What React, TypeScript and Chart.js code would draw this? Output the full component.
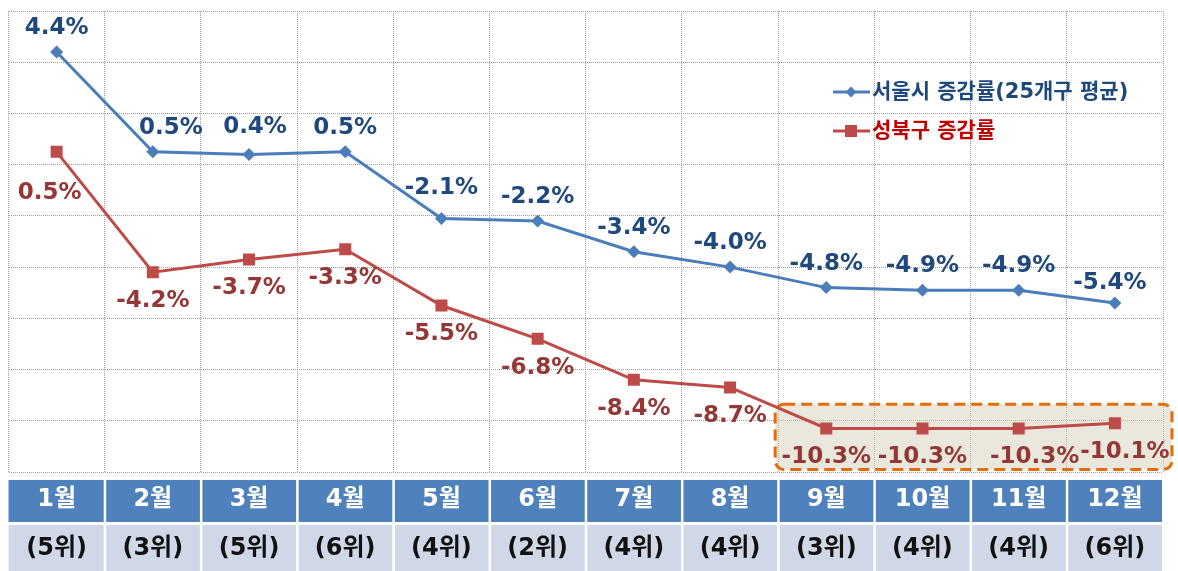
import React, { useEffect, useRef } from 'react';
import { Chart, registerables } from 'chart.js';

Chart.register(...registerables);

const months = ['1월', '2월', '3월', '4월', '5월', '6월', '7월', '8월', '9월', '10월', '11월', '12월'];
const ranks = ['(5위)', '(3위)', '(5위)', '(6위)', '(4위)', '(2위)', '(4위)', '(4위)', '(3위)', '(4위)', '(4위)', '(6위)'];
const seoulRate = [4.4, 0.5, 0.4, 0.5, -2.1, -2.2, -3.4, -4.0, -4.8, -4.9, -4.9, -5.4];
const seongbukRate = [0.5, -4.2, -3.7, -3.3, -5.5, -6.8, -8.4, -8.7, -10.3, -10.3, -10.3, -10.1];
const seriesNames = ['서울시 증감률(25개구 평균)', '성북구 증감률'];
const highlightFrom = 8;
const highlightTo = 11;

const NUM_FONT = '"DejaVu Sans", "Noto Sans CJK KR", sans-serif';
const BLUE = '#4a7ebb';
const RED = '#be4b48';
const BLUE_TEXT = '#1f497d';
const RED_TEXT = '#953735';
const GRID = '#9c9c9c';

const labelShift: Record<string, [number, number]> = {
  '0-1': [18, 0],
  '0-2': [6, -3],
  '0-4': [0, -6],
  '0-11': [-5, 4],
  '1-0': [-7, 12],
  '1-10': [16, 0],
  '1-11': [10, 0],
};

const overlayPlugin = {
  id: 'overlay',
  beforeDatasetsDraw(chart: any) {
    const { ctx } = chart;
    const xs = chart.scales.x;
    const ys = chart.scales.y;
    const half = (xs.getPixelForValue(1) - xs.getPixelForValue(0)) / 2;
    const left = xs.getPixelForValue(highlightFrom) - half - 3;
    const right = xs.getPixelForValue(highlightTo) + half + 9;
    const top = ys.getPixelForValue(-9.35);
    const bottom = ys.getPixelForValue(-11.9);
    ctx.save();
    ctx.beginPath();
    (ctx as any).roundRect(left, top, right - left, bottom - top, 9);
    ctx.fillStyle = 'rgba(214,208,188,0.5)';
    ctx.fill();
    ctx.setLineDash([11, 6]);
    ctx.lineWidth = 3;
    ctx.strokeStyle = '#e46c0a';
    ctx.stroke();
    ctx.restore();
  },
  afterDatasetsDraw(chart: any) {
    const { ctx } = chart;
    ctx.save();
    ctx.font = `bold 23px ${NUM_FONT}`;
    ctx.textAlign = 'center';
    ctx.textBaseline = 'middle';
    chart.data.datasets.forEach((ds: any, di: number) => {
      const meta = chart.getDatasetMeta(di);
      meta.data.forEach((el: any, i: number) => {
        const v = ds.data[i] as number;
        const text = v.toFixed(1) + '%';
        const shift = labelShift[`${di}-${i}`] || [0, 0];
        const dy = di === 0 ? -24 : 29;
        ctx.fillStyle = di === 0 ? BLUE_TEXT : RED_TEXT;
        ctx.fillText(text, el.x + shift[0], el.y + dy + shift[1]);
      });
    });

    // legend
    const lx = 833;
    const items = [
      { y: 92, color: BLUE, text: '#1f497d', style: 'diamond' },
      { y: 131, color: RED, text: '#c00000', style: 'square' },
    ];
    items.forEach((it, k) => {
      ctx.strokeStyle = it.color;
      ctx.lineWidth = 3;
      ctx.setLineDash([]);
      ctx.beginPath();
      ctx.moveTo(lx, it.y);
      ctx.lineTo(lx + 37, it.y);
      ctx.stroke();
      ctx.fillStyle = it.color;
      const cx = lx + 18;
      ctx.beginPath();
      if (it.style === 'diamond') {
        ctx.moveTo(cx, it.y - 5.5);
        ctx.lineTo(cx + 5.5, it.y);
        ctx.lineTo(cx, it.y + 5.5);
        ctx.lineTo(cx - 5.5, it.y);
        ctx.closePath();
      } else {
        ctx.rect(cx - 6, it.y - 6, 12, 12);
      }
      ctx.fill();
      ctx.fillStyle = it.text;
      ctx.textAlign = 'left';
      ctx.font = `bold 21px ${NUM_FONT}`;
      ctx.fillText(seriesNames[k], lx + 39, it.y + 1);
    });
    ctx.restore();
  },
  afterDraw(chart: any) {
    const { ctx, chartArea } = chart;
    const xs = chart.scales.x;
    const half = (xs.getPixelForValue(1) - xs.getPixelForValue(0)) / 2;
    const headTop = chartArea.bottom + 8;
    const headH = 42;
    const rankTop = chartArea.bottom + 53;
    const rankH = chart.height - rankTop;
    ctx.save();
    ctx.textAlign = 'center';
    ctx.textBaseline = 'middle';
    months.forEach((m, i) => {
      const cx = xs.getPixelForValue(i);
      const l = cx - half + (i === 0 ? 0 : 1.5);
      const r = cx + half - 1;
      ctx.fillStyle = '#4f81bd';
      ctx.fillRect(l, headTop, r - l, headH);
      ctx.fillStyle = '#d0d8e8';
      ctx.fillRect(l, rankTop, r - l, rankH);
      ctx.font = `bold 24px ${NUM_FONT}`;
      ctx.fillStyle = '#ffffff';
      ctx.fillText(m, cx, headTop + headH / 2 - 1);
      ctx.fillStyle = '#111111';
      ctx.fillText(ranks[i], cx, rankTop + rankH / 2 + 1);
    });
    ctx.restore();
  },
};

export default function App() {
  const ref = useRef<HTMLCanvasElement | null>(null);
  useEffect(() => {
    document.body.style.margin = '0';
    if (!ref.current) return;
    const chart = new Chart(ref.current, {
      type: 'line',
      data: {
        labels: months,
        datasets: [
          {
            label: seriesNames[0],
            data: seoulRate,
            borderColor: BLUE,
            backgroundColor: BLUE,
            borderWidth: 3,
            pointStyle: 'rectRot',
            pointRadius: 6.5,
            pointBorderWidth: 0,
            tension: 0,
          },
          {
            label: seriesNames[1],
            data: seongbukRate,
            borderColor: RED,
            backgroundColor: RED,
            borderWidth: 3,
            pointStyle: 'rect',
            pointRadius: 8.5,
            pointBorderWidth: 0,
            tension: 0,
          },
        ],
      },
      options: {
        responsive: false,
        animation: false,
        layout: { padding: { left: 7, right: 15, top: 11, bottom: 99 } },
        plugins: {
          legend: { display: false },
          tooltip: { enabled: false },
        },
        scales: {
          x: {
            offset: true,
            grid: { offset: true, drawTicks: false, color: GRID, lineWidth: 1 },
            border: { display: false, dash: [1, 1] },
            ticks: { display: false },
          },
          y: {
            min: -12,
            max: 6,
            grid: { drawTicks: false, color: GRID, lineWidth: 1 },
            border: { display: false, dash: [1, 1] },
            ticks: { display: false, stepSize: 2 },
          },
        },
      },
      plugins: [overlayPlugin],
    });
    return () => chart.destroy();
  }, []);
  return <canvas ref={ref} width={1178} height={571} style={{ display: 'block' }} />;
}
